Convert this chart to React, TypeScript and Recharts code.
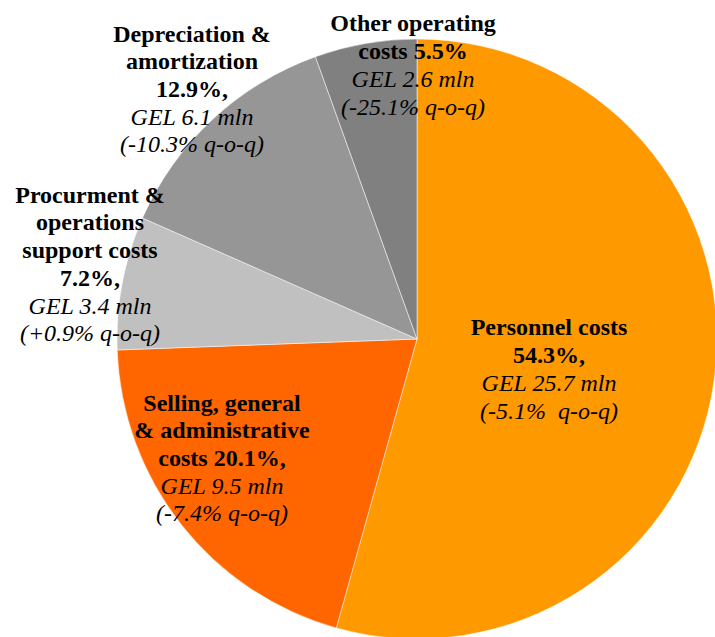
import React from "react";
import { PieChart, Pie, Cell } from "recharts";

const categories = [
  "Personnel costs",
  "Selling, general & administrative costs",
  "Procurment & operations support costs",
  "Depreciation & amortization",
  "Other operating costs",
];
const valuesGelMln = [25.7, 9.5, 3.4, 6.1, 2.6];
const shareLabels = ["54.3%,", "20.1%,", "7.2%,", "12.9%,", "5.5%"];
const qoqLabels = ["(-5.1%  q-o-q)", "(-7.4% q-o-q)", "(+0.9% q-o-q)", "(-10.3% q-o-q)", "(-25.1% q-o-q)"];
const colors = ["#FF9900", "#FF6600", "#C0C0C0", "#969696", "#808080"];

// bold title lines for each label (wrapped as in the original)
const boldLines: string[][] = [
  ["Personnel costs", shareLabels[0]],
  ["Selling, general", "& administrative", "costs " + shareLabels[1]],
  ["Procurment &", "operations", "support costs", shareLabels[2]],
  ["Depreciation &", "amortization", shareLabels[3]],
  ["Other operating", "costs " + shareLabels[4]],
];
// label block offsets from pie centre
const labelOffsets = [
  [132, 30],
  [-195, 119],
  [-327, -75],
  [-225, -250],
  [-4, -274],
];

const data = categories.map((name, i) => ({ name, value: valuesGelMln[i] }));

const LH = 27.7;
const FONT = "Liberation Serif";

const renderLabel = (props: any) => {
  const { cx, cy, index } = props;
  const bl = boldLines[index];
  const italic = ["GEL " + valuesGelMln[index] + " mln", qoqLabels[index]];
  const n = bl.length + italic.length;
  const x = Number(cx) + labelOffsets[index][0];
  const y0 = Number(cy) + labelOffsets[index][1] - ((n - 1) * LH) / 2;
  return (
    <g key={"lbl" + index}>
      {bl.map((t, i) => (
        <text
          key={"b" + i}
          x={x}
          y={y0 + i * LH}
          textAnchor="middle"
          dominantBaseline="central"
          fill="#000"
          style={{ fontFamily: FONT, fontSize: 24, fontWeight: "bold", whiteSpace: "pre" }}
        >
          {t}
        </text>
      ))}
      {italic.map((t, i) => (
        <text
          key={"i" + i}
          x={x}
          y={y0 + (bl.length + i) * LH}
          textAnchor="middle"
          dominantBaseline="central"
          fill="#000"
          style={{ fontFamily: FONT, fontSize: 24, fontStyle: "italic", whiteSpace: "pre" }}
        >
          {t}
        </text>
      ))}
    </g>
  );
};

export default function App() {
  return (
    <div style={{ position: "absolute", left: 0, top: 0, width: 715, height: 637, background: "#fff", fontFamily: FONT }}>
      <PieChart width={715} height={637} margin={{ top: 0, right: 0, bottom: 0, left: 0 }} style={{ fontFamily: FONT }}>
        <Pie
          data={data}
          dataKey="value"
          nameKey="name"
          cx={417}
          cy={339}
          outerRadius={300}
          startAngle={90}
          endAngle={-270}
          stroke="#ffffff"
          strokeOpacity={0.5}
          strokeWidth={1}
          label={renderLabel}
          labelLine={false}
          isAnimationActive={false}
        >
          {data.map((d, i) => (
            <Cell key={d.name} fill={colors[i]} />
          ))}
        </Pie>
      </PieChart>
    </div>
  );
}
